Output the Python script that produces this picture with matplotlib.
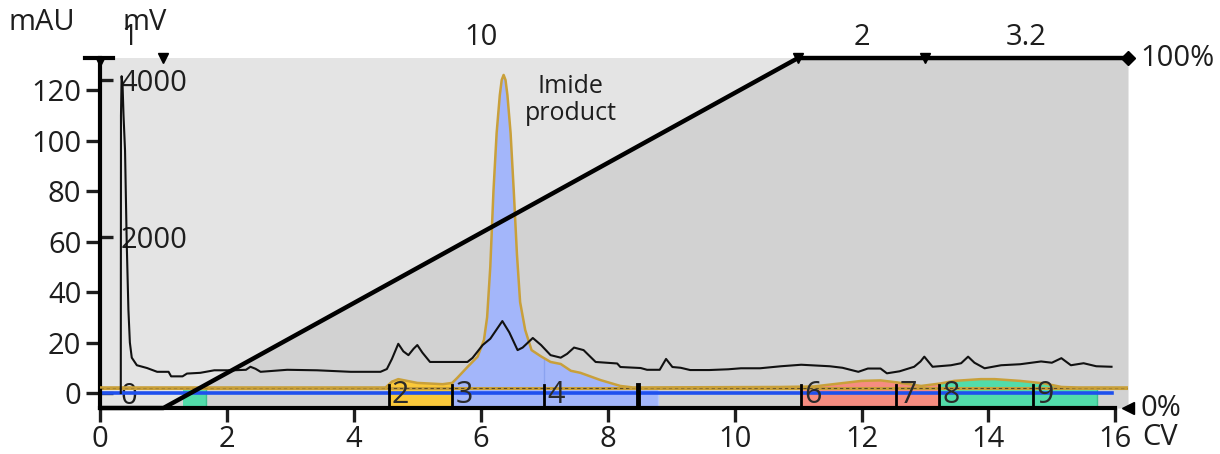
import numpy as np
import matplotlib.pyplot as plt

plt.rcParams['font.family'] = ['Open Sans', 'DejaVu Sans']

# black UV trace (CV, mAU)
uv_x = [0.327, 0.330, 0.340, 0.355, 0.370, 0.394, 0.420, 0.447, 0.470, 0.50, 0.58, 0.74,
        0.90, 1.08, 1.12, 1.30, 1.37, 1.58, 1.80, 2.10, 2.30, 2.37, 2.45, 2.53, 2.95,
        3.42, 3.95, 4.42, 4.52, 4.60, 4.70, 4.78, 4.86, 4.94, 5.00, 5.08, 5.20, 5.79,
        5.87, 6.03, 6.15, 6.34, 6.45, 6.58, 6.66, 6.82, 6.95, 7.10, 7.26, 7.36, 7.47,
        7.62, 7.81, 8.15, 8.20, 8.52, 8.62, 8.82, 8.92, 9.02, 9.15, 9.30, 9.60, 9.90,
        10.10, 10.40, 10.73, 11.05, 11.50, 11.70, 11.95, 12.10, 12.30, 12.40, 12.60,
        12.83, 12.93, 12.99, 13.12, 13.41, 13.57, 13.68, 13.78, 13.94, 14.20, 14.50,
        14.83, 15.00, 15.15, 15.30, 15.50, 15.70, 15.94]
uv_y = [0.0, 110.0, 125.5, 122.0, 110.0, 96.0, 60.0, 33.0, 20.0, 14.0, 11.0, 9.9,
        8.4, 8.4, 6.6, 6.6, 7.7, 8.0, 9.0, 9.0, 9.2, 10.4, 9.6, 8.4, 9.2,
        9.0, 8.4, 8.4, 9.5, 13.5, 19.5, 16.5, 15.0, 17.5, 19.0, 16.0, 12.3, 12.3,
        13.9, 19.0, 21.5, 28.5, 24.0, 17.0, 18.0, 21.8, 19.0, 15.0, 14.0, 15.5, 18.0,
        17.0, 12.3, 11.7, 10.3, 9.9, 9.2, 9.2, 13.5, 10.3, 10.0, 9.1, 9.1, 9.4,
        9.8, 9.8, 10.6, 11.2, 10.6, 10.0, 8.4, 9.7, 9.7, 7.8, 8.6,
        10.4, 12.5, 14.4, 10.4, 11.0, 11.8, 14.4, 12.0, 9.8, 11.0, 11.4,
        12.5, 12.0, 13.8, 11.0, 11.8, 10.6, 10.4]

# gold trace (CV, mAU)
au_x = [0.0, 4.50, 4.60, 4.70, 4.80, 5.00, 5.40, 5.55, 5.63, 5.79, 5.95, 6.05, 6.10,
        6.15, 6.20, 6.25, 6.30, 6.33, 6.36, 6.39, 6.42, 6.47, 6.52, 6.57, 6.62, 6.70,
        6.80, 6.95, 7.10, 7.26, 7.42, 7.57, 7.89, 8.20, 8.40, 10.73, 11.25, 12.00,
        12.30, 12.56, 12.94, 13.25, 13.46, 13.88, 14.10, 14.50, 14.88, 15.15, 15.40, 16.20]
au_y = [2.2, 2.2, 4.5, 5.5, 5.0, 4.0, 3.5, 4.0, 6.0, 10.3, 14.4, 21.0, 30.0,
        50.0, 80.0, 103.0, 118.0, 124.0, 126.0, 124.0, 118.0, 103.0, 80.0, 55.0, 36.0, 25.0,
        17.0, 14.5, 12.3, 11.5, 8.8, 8.0, 5.1, 2.8, 2.2, 2.4, 2.6, 4.8,
        5.0, 4.2, 2.8, 3.8, 4.8, 5.5, 5.5, 4.8, 3.8, 2.4, 2.2, 2.2]

# gradient (CV, % B)
grad_x = [0, 1, 11, 16.2]
grad_y = [0, 0, 100, 100]
seg_len = ['1', '10', '2', '3.2']

# fractions
frac_num = ['1', '2', '3', '4', '5', '6', '7', '8', '9']
frac_start = [1.30, 4.55, 5.55, 7.00, 8.47, 11.05, 12.55, 13.22, 14.70]
frac_end = [1.67, 5.55, 7.00, 8.47, 8.79, 12.55, 13.22, 14.70, 15.71]
frac_shown = [False, True, True, True, False, True, True, True, True]

mau_ticks = [0, 20, 40, 60, 80, 100, 120]
mv_ticks = [0, 2000, 4000]
mv_per_mau = 32.3

col = {'1': '#52dcaa', '2': '#fbc93a', '3': '#a3b6fa', '4': '#a3b6fa', '5': '#a3b6fa',
       '6': '#f68c80', '7': '#f68c80', '8': '#52dcaa', '9': '#52dcaa'}
edge = {'1': '#3cc090', '2': '#e0a820', '3': '#8aa2f0', '4': '#8aa2f0', '5': '#b8c8fa',
        '6': '#e07468', '7': '#e07468', '8': '#3cc090', '9': '#3cc090'}
gold = '#c9a03a'
txt = '#1e1e1e'
FS = 21

ymin, ymax = -5.94, 132.7
fig = plt.figure(figsize=(12.2, 4.54), dpi=100)
ax = fig.add_axes([0.082, 0.1013, 0.8426, 0.7709])
ax.set_xlim(0, 16.2)
ax.set_ylim(ymin, ymax)
ax.set_facecolor('#e4e4e4')

# gradient region
gx = np.array(grad_x, dtype=float)
gy = ymin + np.array(grad_y) / 100 * (ymax - ymin)
ax.fill_between(gx, ymin, gy, color='#d2d2d2', lw=0, zorder=0.5)

# fractions filled under gold trace
ux = np.array(au_x)
uy = np.array(au_y)
for n, s, e in zip(frac_num, frac_start, frac_end):
    inside = (ux > s) & (ux < e)
    px = np.concatenate([[s], ux[inside], [e]])
    py = np.concatenate([[np.interp(s, ux, uy)], uy[inside], [np.interp(e, ux, uy)]])
    ax.fill_between(px, ymin, py, color=col[n], lw=0, zorder=1)
    ax.plot([e, e], [ymin, py[-1]], color=edge[n], lw=1, zorder=1.1)

ax.plot([0, 15.94], [0, 0], color='#1f50ee', lw=2.6, zorder=2)
ax.axhline(2.0, color=gold, lw=2.2, zorder=2.1)
ax.axhline(2.0, color='#5a4a28', lw=0.8, ls=(0, (3, 2.5)), zorder=2.2)
ax.plot(au_x, au_y, color=gold, lw=1.8, zorder=3)
ax.plot(uv_x, uv_y, color='#111111', lw=1.5, zorder=3.2)
ax.plot(gx, gy, color='black', lw=3.2, zorder=4, clip_on=False, solid_capstyle='butt')

# fraction dividers and numbers
for i, (n, s) in enumerate(zip(frac_num, frac_start)):
    if i > 0:
        ax.plot([s, s], [ymin, 3.0], color='black', lw=3.5 if n == '5' else 2.0, zorder=4.5)
    if frac_shown[i]:
        ax.text(s + 0.05, -0.9, n, fontsize=22, color='#2a2a2a', ha='left', va='center',
                zorder=5, clip_on=True)

# gradient markers
ax.plot([1, 11, 13], [ymax] * 3, marker='v', ls='none', color='black', ms=7,
        clip_on=False, zorder=6)
ax.plot([16.2], [ymax], marker='D', color='black', ms=7, clip_on=False, zorder=6)
ax.plot([16.2], [ymin], marker='<', color='black', ms=9, clip_on=False, zorder=6)
ax.plot([-0.24, 0.2], [ymax, ymax], color='black', lw=3, clip_on=False, zorder=6)
ax.plot([0], [ymax - 1.5], marker='v', color='black', ms=6, clip_on=False, zorder=6)

seg_mid = [(grad_x[0] + 1) / 2 - 0.03, (1 + 11) / 2, (11 + 13) / 2, (13 + 16.2) / 2]
for m, lab in zip(seg_mid, seg_len):
    ax.text(m, 1.06, lab, transform=ax.get_xaxis_transform(), fontsize=FS, color=txt,
            ha='center', va='center')
ax.text(1.012, 1.0, '100%', transform=ax.transAxes, fontsize=FS, color=txt,
        ha='left', va='center')
ax.text(1.012, 0.0, '0%', transform=ax.transAxes, fontsize=FS, color=txt,
        ha='left', va='center')

ax.text(7.42, 116, 'Imide\nproduct', fontsize=18, color=txt, ha='center', va='center',
        linespacing=1.12)

# axes styling
for sp in ['top', 'right']:
    ax.spines[sp].set_visible(False)
ax.spines['left'].set_linewidth(3)
ax.spines['bottom'].set_linewidth(3)
ax.spines['bottom'].set_bounds(0, 16)
ax.set_xticks(range(0, 17, 2))
ax.set_yticks(mau_ticks)
ax.tick_params(axis='both', labelsize=FS, colors=txt, width=2.4, length=10)
ax.tick_params(axis='x', pad=2)
ax.text(16.7, -0.085, 'CV', transform=ax.get_xaxis_transform(), fontsize=FS, color=txt,
        ha='center', va='center')

mv = ax.secondary_yaxis('left', functions=(lambda v: v * mv_per_mau, lambda v: v / mv_per_mau))
mv.set_yticks(mv_ticks)
mv.spines['left'].set_visible(False)
mv.tick_params(direction='in', length=9, width=2.4, labelsize=FS, colors=txt, pad=-15)
for t in mv.get_yticklabels():
    t.set_horizontalalignment('left')

fig.text(0.034, 0.951, 'mAU', fontsize=FS, color=txt, ha='center', va='center')
fig.text(0.119, 0.951, 'mV', fontsize=FS, color=txt, ha='center', va='center')

fig.savefig('out.png', dpi=100)
